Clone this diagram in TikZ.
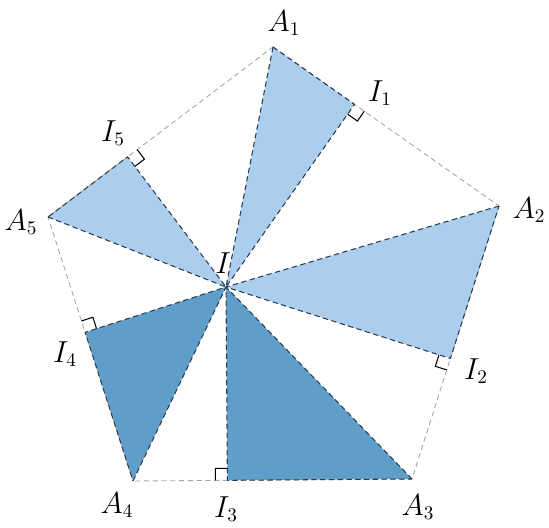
\documentclass[tikz,border=0pt]{standalone}
\usetikzlibrary{calc}
\definecolor{lightfill}{RGB}{172,206,238}
\definecolor{darkfill}{RGB}{96,158,202}
\definecolor{edgecol}{RGB}{40,60,80}
\begin{document}
\begin{tikzpicture}[x=0.02cm,y=-0.02cm,
  poly/.style={gray!70,densely dashed,line width=0.5pt},
  tri/.style={edgecol,densely dashed,line width=0.6pt,line join=round},
  ramark/.style={black,line width=0.6pt},
  lab/.style={inner sep=1pt,font=\fontsize{16}{18}\selectfont}]
\useasboundingbox (0,0) rectangle (549,528);
\coordinate (A1) at (273,47);
\coordinate (A2) at (499,206);
\coordinate (A3) at (412,479);
\coordinate (A4) at (133,481);
\coordinate (A5) at (48,217);
\coordinate (I) at (226,287);
\coordinate (I1) at ($(A1)!(I)!(A2)$);
\coordinate (I2) at ($(A2)!(I)!(A3)$);
\coordinate (I3) at ($(A3)!(I)!(A4)$);
\coordinate (I4) at ($(A4)!(I)!(A5)$);
\coordinate (I5) at ($(A5)!(I)!(A1)$);
% triangles
\fill[lightfill] (A1) -- (I) -- (I1) -- cycle;
\fill[lightfill] (A2) -- (I) -- (I2) -- cycle;
\fill[darkfill] (A3) -- (I) -- (I3) -- cycle;
\fill[darkfill] (A4) -- (I) -- (I4) -- cycle;
\fill[lightfill] (A5) -- (I) -- (I5) -- cycle;
% pentagon
\draw[poly] (A1) -- (A2) -- (A3) -- (A4) -- (A5) -- cycle;
% triangle edges
\draw[tri] (A1) -- (I) -- (I1) -- (A1);
\draw[tri] (A2) -- (I) -- (I2) -- (A2);
\draw[tri] (A3) -- (I) -- (I3) -- (A3);
\draw[tri] (A4) -- (I) -- (I4) -- (A4);
\draw[tri] (A5) -- (I) -- (I5) -- (A5);
% right angle marks
\foreach \f/\n in {I1/A2,I2/A3,I3/A4,I4/A5,I5/A1}{
  \coordinate (p) at ($(\f)!0.24cm!(\n)$);
  \coordinate (q) at ($(\f)!0.24cm!(I)$);
  \draw[ramark] (p) -- ($(p)+(q)-(\f)$) -- (q);
}
% labels
\node[lab] (lA1) at (284,23) {$A_1$};
\node[lab] (lA2) at (529,210) {$A_2$};
\node[lab] (lA3) at (418,507) {$A_3$};
\node[lab] (lA4) at (117,505) {$A_4$};
\node[lab] (lA5) at (21,222) {$A_5$};
\node[lab] (lI1) at (380,93) {$I_1$};
\node[lab] (lI2) at (476,371) {$I_2$};
\node[lab] (lI3) at (226,509) {$I_3$};
\node[lab] (lI4) at (65,354) {$I_4$};
\node[lab] (lI5) at (113,133) {$I_5$};
\node[lab] (lI) at (223,263) {$I$};
\end{tikzpicture}
\end{document}
